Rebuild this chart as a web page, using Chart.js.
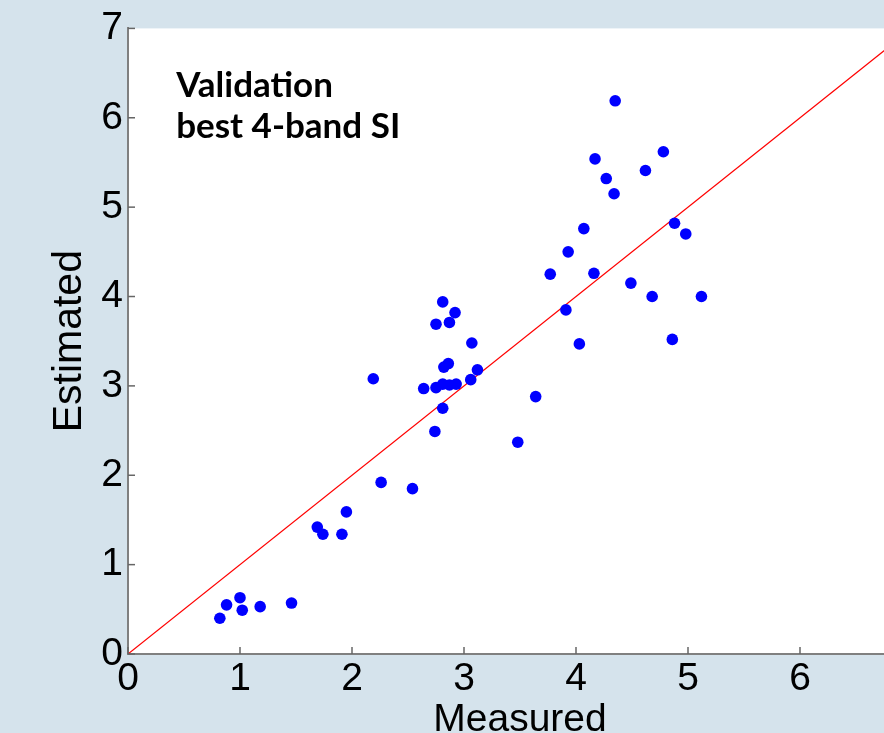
<!DOCTYPE html>
<html>
<head>
<meta charset="utf-8">
<script src="https://cdn.jsdelivr.net/npm/chart.js@4.4.0/dist/chart.umd.min.js"></script>
<style>
  html, body { margin: 0; padding: 0; overflow: hidden; background: #d5e3ec; }
  #wrap { position: absolute; left: 0; top: 0; }
</style>
</head>
<body>
<div id="wrap"><canvas id="scatterChart" width="930" height="745"></canvas></div>
<script>
// measured vs estimated values (validation set)
const measured = [0.82, 0.88, 1.00, 1.02, 1.18, 1.46, 1.69, 1.74, 1.91, 1.95,
  2.26, 2.54, 2.19, 2.74, 2.81, 2.64, 2.75, 2.81, 2.87, 2.93,
  2.82, 2.86, 3.06, 3.12, 3.07, 2.75, 2.87, 2.92, 2.81, 3.48,
  3.64, 3.77, 3.91, 3.93, 4.03, 4.07, 4.16, 4.17, 4.27, 4.34,
  4.35, 4.49, 4.62, 4.68, 4.78, 4.86, 4.88, 4.98, 5.12];
const estimated = [0.40, 0.55, 0.63, 0.49, 0.53, 0.57, 1.42, 1.34, 1.34, 1.59,
  1.92, 1.85, 3.08, 2.49, 2.75, 2.97, 2.98, 3.02, 3.01, 3.02,
  3.21, 3.25, 3.07, 3.18, 3.48, 3.69, 3.71, 3.82, 3.94, 2.37,
  2.88, 4.25, 3.85, 4.50, 3.47, 4.76, 4.26, 5.54, 5.32, 5.15,
  6.19, 4.15, 5.41, 4.00, 5.62, 3.52, 4.82, 4.70, 4.00];
// 1:1 reference line
const oneToOne = [0, 7];
const axisTicks = [0, 1, 2, 3, 4, 5, 6, 7];
const noteLines = ['Validation', 'best 4-band SI'];

const points = measured.map((m, i) => ({ x: m, y: estimated[i] }));
const refLine = oneToOne.map(v => ({ x: v, y: v }));

const axisFont = { family: 'Liberation Sans, Arial, sans-serif', size: 39 };

// white plot area on the blue-grey page
const plotBackground = {
  id: 'plotBackground',
  beforeDraw(chart) {
    const { ctx, chartArea: a } = chart;
    ctx.save();
    ctx.fillStyle = '#ffffff';
    ctx.fillRect(a.left, a.top, a.right - a.left, a.bottom - a.top);
    ctx.restore();
  }
};

// small tick marks pointing into the plot, plus the text note
const innerTicks = {
  id: 'innerTicks',
  afterDraw(chart) {
    const { ctx, chartArea: a, scales: { x, y } } = chart;
    ctx.save();
    ctx.strokeStyle = '#666';
    ctx.lineWidth = 1.5;
    axisTicks.forEach(v => {
      const px = x.getPixelForValue(v);
      ctx.beginPath();
      ctx.moveTo(px, a.bottom);
      ctx.lineTo(px, a.bottom - 7);
      ctx.stroke();
      const py = y.getPixelForValue(v);
      ctx.beginPath();
      ctx.moveTo(a.left, py);
      ctx.lineTo(a.left + 7, py);
      ctx.stroke();
    });

    ctx.fillStyle = '#000';
    ctx.font = 'bold 35px Lato, "Open Sans", sans-serif';
    ctx.textBaseline = 'alphabetic';
    ctx.textAlign = 'left';
    const tx = x.getPixelForValue(0.43);
    const ty = y.getPixelForValue(6.23);
    noteLines.forEach((t, i) => ctx.fillText(t, tx, ty + i * 41));
    ctx.restore();
  }
};

new Chart(document.getElementById('scatterChart'), {
  type: 'scatter',
  data: {
    datasets: [
      {
        data: points,
        backgroundColor: '#0000ff',
        pointRadius: 5.8,
        pointBorderWidth: 0,
        pointHoverRadius: 5.8,
        order: 1
      },
      {
        data: refLine,
        showLine: true,
        borderColor: '#ff0000',
        borderWidth: 1.2,
        pointRadius: 0,
        order: 2
      }
    ]
  },
  options: {
    responsive: false,
    animation: false,
    layout: { padding: { top: 27, right: 18, bottom: 0, left: 0 } },
    plugins: {
      legend: { display: false },
      tooltip: { enabled: false }
    },
    scales: {
      x: {
        type: 'linear',
        min: 0,
        max: 7,
        afterFit(scale) { scale.height = 91; },
        grid: { display: false, drawTicks: false },
        border: { display: true, color: '#808080', width: 2 },
        ticks: { stepSize: 1, padding: 2, color: '#000', font: axisFont },
        title: {
          display: true,
          text: 'Measured',
          color: '#000',
          font: axisFont,
          padding: { top: 2, bottom: 1 }
        }
      },
      y: {
        type: 'linear',
        min: 0,
        max: 7,
        afterFit(scale) { scale.width = 128; },
        grid: { display: false, drawTicks: false },
        border: { display: true, color: '#808080', width: 2 },
        ticks: { stepSize: 1, padding: 5, color: '#000', font: axisFont },
        title: {
          display: true,
          text: 'Estimated',
          color: '#000',
          font: { family: 'Liberation Sans, Arial, sans-serif', size: 41 },
          padding: { top: 45, bottom: 0 }
        }
      }
    }
  },
  plugins: [plotBackground, innerTicks]
});
</script>
</body>
</html>
